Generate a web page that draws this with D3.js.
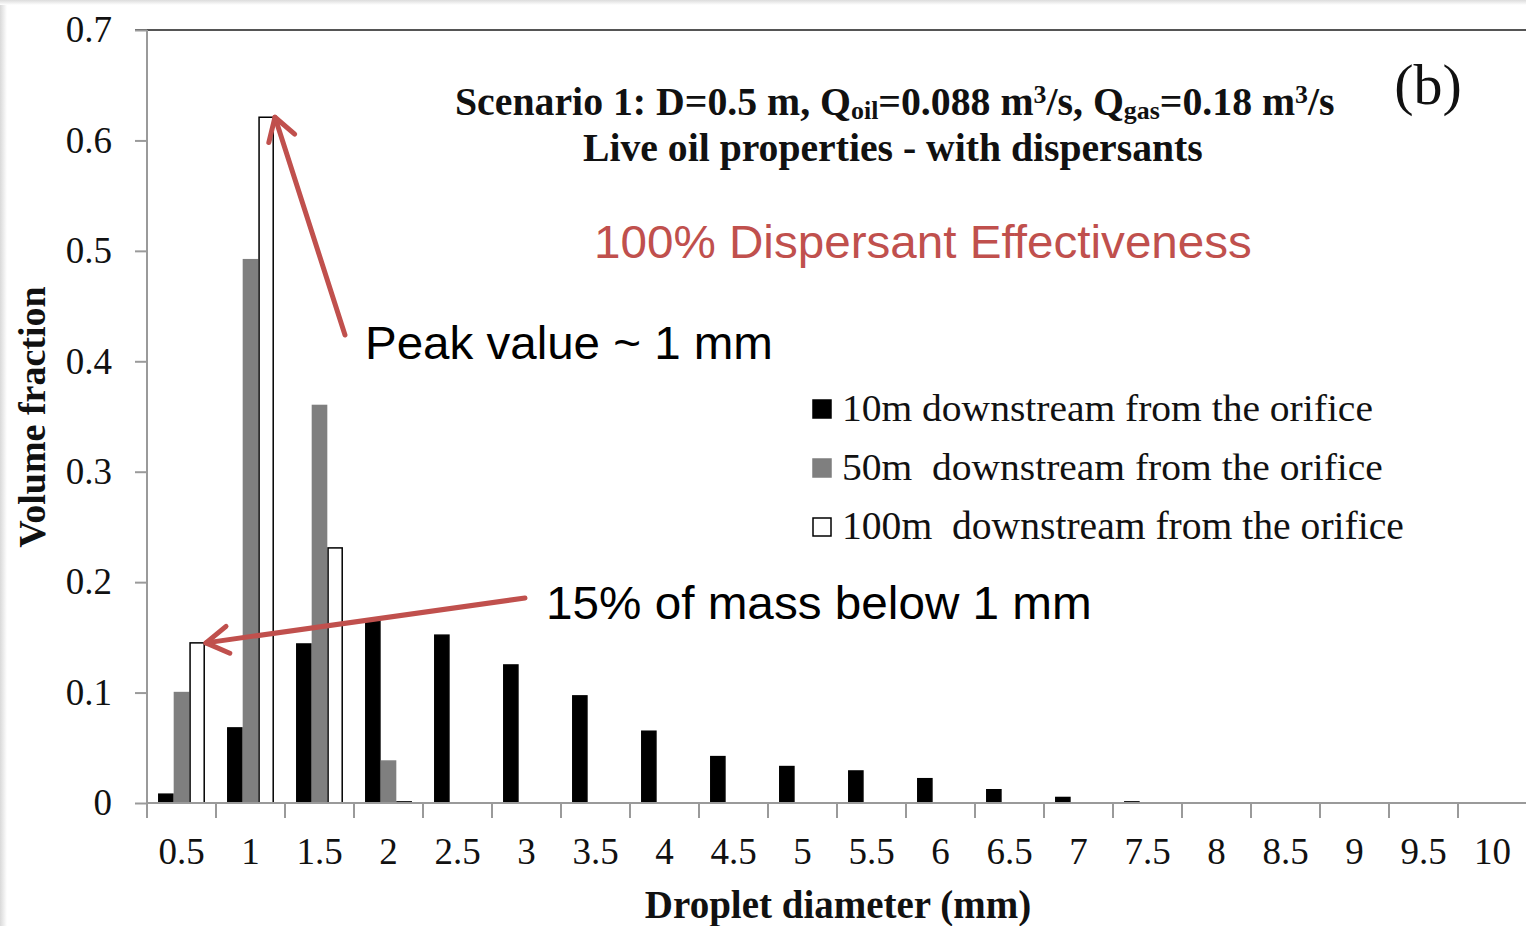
<!DOCTYPE html>
<html>
<head>
<meta charset="utf-8">
<script src="https://cdn.jsdelivr.net/npm/d3@7"></script>
<style>
  html, body { margin: 0; padding: 0; background: #fff; }
  svg { display: block; }
  text { white-space: pre; }
</style>
</head>
<body>
<svg id="chart" width="1526" height="926"></svg>
<script>
// Droplet size distribution, three downstream distances
const categories = ["0.5","1","1.5","2","2.5","3","3.5","4","4.5","5",
                    "5.5","6","6.5","7","7.5","8","8.5","9","9.5","10"];
const seriesNames = ["10m downstream from the orifice",
                     "50m  downstream from the orifice",
                     "100m  downstream from the orifice"];
const values10m  = [0.008, 0.068, 0.144, 0.166, 0.152, 0.125, 0.097, 0.065, 0.042, 0.033,
                    0.029, 0.022, 0.012, 0.005, 0.001, 0, 0, 0, 0, 0];
const values50m  = [0.100, 0.492, 0.360, 0.038, 0, 0, 0, 0, 0, 0,
                    0, 0, 0, 0, 0, 0, 0, 0, 0, 0];
const values100m = [0.145, 0.621, 0.231, 0.001, 0, 0, 0, 0, 0, 0,
                    0, 0, 0, 0, 0, 0, 0, 0, 0, 0];
const yTicks = [0, 0.1, 0.2, 0.3, 0.4, 0.5, 0.6, 0.7];

const seriesValues = [values10m, values50m, values100m];
const fills   = ["#000000", "#7f7f7f", "#ffffff"];
const strokes = ["#000000", "#7f7f7f", "#000000"];

const SERIF = "'Liberation Serif', 'Times New Roman', Times, serif";
const SANS  = "'Liberation Sans', Arial, Helvetica, sans-serif";
const RED   = "#c0504d";

const svg = d3.select("#chart");

// faint slide-frame shading along left and top edges
const defs = svg.append("defs");
const gl = defs.append("linearGradient").attr("id", "edgeL").attr("x1", 0).attr("x2", 1).attr("y1", 0).attr("y2", 0);
gl.append("stop").attr("offset", "0%").attr("stop-color", "#d9d9d9");
gl.append("stop").attr("offset", "100%").attr("stop-color", "#ffffff");
const gt = defs.append("linearGradient").attr("id", "edgeT").attr("x1", 0).attr("x2", 0).attr("y1", 0).attr("y2", 1);
gt.append("stop").attr("offset", "0%").attr("stop-color", "#dcdcdc");
gt.append("stop").attr("offset", "100%").attr("stop-color", "#ffffff");
svg.append("rect").attr("x", 0).attr("y", 0).attr("width", 7).attr("height", 926).attr("fill", "url(#edgeL)");
svg.append("rect").attr("x", 0).attr("y", 0).attr("width", 1526).attr("height", 5).attr("fill", "url(#edgeT)");

const plot = { left: 147, right: 1527, top: 30, bottom: 803 };

const x0 = d3.scaleBand().domain(categories).range([plot.left, plot.right]).padding(0);
const groupPad = x0.step() * 0.16;
const x1 = d3.scaleBand().domain(d3.range(3)).range([groupPad, x0.step() - groupPad]).padding(0);
const y = d3.scaleLinear().domain([0, 0.7]).range([plot.bottom, plot.top]);

// top frame line
svg.append("line")
  .attr("x1", plot.left - 12).attr("x2", 1526)
  .attr("y1", plot.top).attr("y2", plot.top)
  .attr("stroke", "#555").attr("stroke-width", 2);

// bars
const groups = svg.append("g").selectAll("g")
  .data(categories)
  .join("g")
  .attr("transform", d => `translate(${x0(d)},0)`);

groups.selectAll("rect")
  .data((d, i) => seriesValues.map((s, k) => ({ k, v: s[i] })))
  .join("rect")
  .filter(d => d.v > 0)
  .attr("x", d => x1(d.k) + 0.75)
  .attr("width", x1.bandwidth() - 1.5)
  .attr("y", d => y(d.v))
  .attr("height", d => Math.max(0, y(0) - y(d.v)))
  .attr("fill", d => fills[d.k])
  .attr("stroke", d => strokes[d.k])
  .attr("stroke-width", 1.5);

// y axis
const yAxis = svg.append("g")
  .attr("transform", `translate(${plot.left},0)`)
  .call(d3.axisLeft(y).tickValues(yTicks).tickSize(12).tickPadding(23)
        .tickFormat(d => d === 0 ? "0" : d3.format(".1f")(d)));
yAxis.select(".domain").attr("stroke", "#9a9a9a").attr("stroke-width", 2)
  .attr("d", `M0,${plot.top}V${plot.bottom + 15}`);
yAxis.selectAll(".tick line").attr("stroke", "#9a9a9a").attr("stroke-width", 2);
yAxis.selectAll(".tick text")
  .attr("font-family", SERIF).attr("font-size", 37).attr("fill", "#111");

// x axis: labels at category centres, ticks at category boundaries
const xAxis = svg.append("g")
  .attr("transform", `translate(0,${plot.bottom})`)
  .call(d3.axisBottom(x0).tickSize(0).tickPadding(35));
xAxis.select(".domain").attr("stroke", "#9a9a9a").attr("stroke-width", 2)
  .attr("d", `M${plot.left},0H1526`);
xAxis.selectAll(".tick text")
  .attr("font-family", SERIF).attr("font-size", 37).attr("fill", "#111");
xAxis.selectAll("line.bound")
  .data(categories.slice(1))
  .join("line")
  .attr("class", "bound")
  .attr("x1", d => x0(d)).attr("x2", d => x0(d))
  .attr("y1", 0).attr("y2", 15)
  .attr("stroke", "#9a9a9a").attr("stroke-width", 2);

// axis titles
svg.append("text")
  .attr("transform", `translate(45,417) rotate(-90)`)
  .attr("text-anchor", "middle")
  .attr("font-family", SERIF).attr("font-weight", "bold").attr("font-size", 38)
  .attr("fill", "#111")
  .text("Volume fraction");

svg.append("text")
  .attr("x", 838).attr("y", 918)
  .attr("text-anchor", "middle")
  .attr("font-family", SERIF).attr("font-weight", "bold").attr("font-size", 39)
  .attr("fill", "#111")
  .text("Droplet diameter (mm)");

// stretch or squeeze a text element horizontally to span [xStart, xStart+width]
function fitWidth(sel, xStart, width) {
  const bb = sel.node().getBBox();
  const sx = width / bb.width;
  sel.attr("transform", `translate(${xStart},0) scale(${sx},1) translate(${-bb.x},0)`);
}

// chart title, with subscripts and superscripts
const title1 = svg.append("text")
  .attr("x", 0).attr("y", 115)
  .attr("font-family", SERIF).attr("font-weight", "bold").attr("font-size", 40)
  .attr("fill", "#111");
const parts = [
  ["Scenario 1: D=0.5 m, Q", 0], ["oil", 1], ["=0.088 m", 0], ["3", 2],
  ["/s, Q", 0], ["gas", 1], ["=0.18 m", 0], ["3", 2], ["/s", 0]
];
parts.forEach(([t, kind]) => {
  const ts = title1.append("tspan").text(t);
  if (kind === 1) ts.attr("font-size", 26).attr("baseline-shift", "-16%");
  if (kind === 2) ts.attr("font-size", 26).attr("baseline-shift", "48%");
});
fitWidth(title1, 455, 880);

const title2 = svg.append("text")
  .attr("x", 0).attr("y", 161)
  .attr("font-family", SERIF).attr("font-weight", "bold").attr("font-size", 39)
  .attr("fill", "#111")
  .text("Live oil properties - with dispersants");
fitWidth(title2, 583, 620);

svg.append("text")
  .attr("x", 1428).attr("y", 104)
  .attr("text-anchor", "middle")
  .attr("font-family", SERIF).attr("font-size", 58).attr("fill", "#111")
  .text("(b)");

// red heading
const redHead = svg.append("text")
  .attr("x", 0).attr("y", 258)
  .attr("font-family", SANS).attr("font-size", 47).attr("fill", RED)
  .text("100% Dispersant Effectiveness");
fitWidth(redHead, 594, 658);

// legend
const legend = svg.append("g");
seriesNames.forEach((name, k) => {
  const base = 421 + k * 59;
  legend.append("rect")
    .attr("x", 813).attr("y", base - 21).attr("width", 18).attr("height", 18)
    .attr("fill", fills[k]).attr("stroke", strokes[k]).attr("stroke-width", 1.5);
  const t = legend.append("text")
    .attr("x", 0).attr("y", base)
    .attr("font-family", SERIF).attr("font-size", 39).attr("fill", "#111")
    .text(name);
  fitWidth(t, 842, [531, 541, 562][k]);
});

// annotations
const peakNote = svg.append("text")
  .attr("x", 0).attr("y", 359)
  .attr("font-family", SANS).attr("font-size", 47).attr("fill", "#000")
  .text("Peak value ~ 1 mm");
fitWidth(peakNote, 365, 408);

const massNote = svg.append("text")
  .attr("x", 0).attr("y", 619)
  .attr("font-family", SANS).attr("font-size", 47).attr("fill", "#000")
  .text("15% of mass below 1 mm");
fitWidth(massNote, 546, 546);

// arrows pointing at bar tops
function arrow(from, to) {
  const g = svg.append("g")
    .attr("stroke", RED).attr("stroke-width", 5)
    .attr("stroke-linecap", "round").attr("stroke-linejoin", "round")
    .attr("fill", "none");
  g.append("line")
    .attr("x1", from[0]).attr("y1", from[1])
    .attr("x2", to[0]).attr("y2", to[1]);
  const ang = Math.atan2(from[1] - to[1], from[0] - to[0]);
  const len = 26, spread = 0.55;
  const w1 = [to[0] + len * Math.cos(ang + spread), to[1] + len * Math.sin(ang + spread)];
  const w2 = [to[0] + len * Math.cos(ang - spread), to[1] + len * Math.sin(ang - spread)];
  g.append("path").attr("d", d3.line()([w1, to, w2]));
}
const topOf = (catIdx, k, v) => [x0(categories[catIdx]) + x1(k) + x1.bandwidth() + 1, y(v)];
arrow([345, 335], topOf(1, 2, values100m[1]));
arrow([525, 598], topOf(0, 2, values100m[0]));
</script>
</body>
</html>
